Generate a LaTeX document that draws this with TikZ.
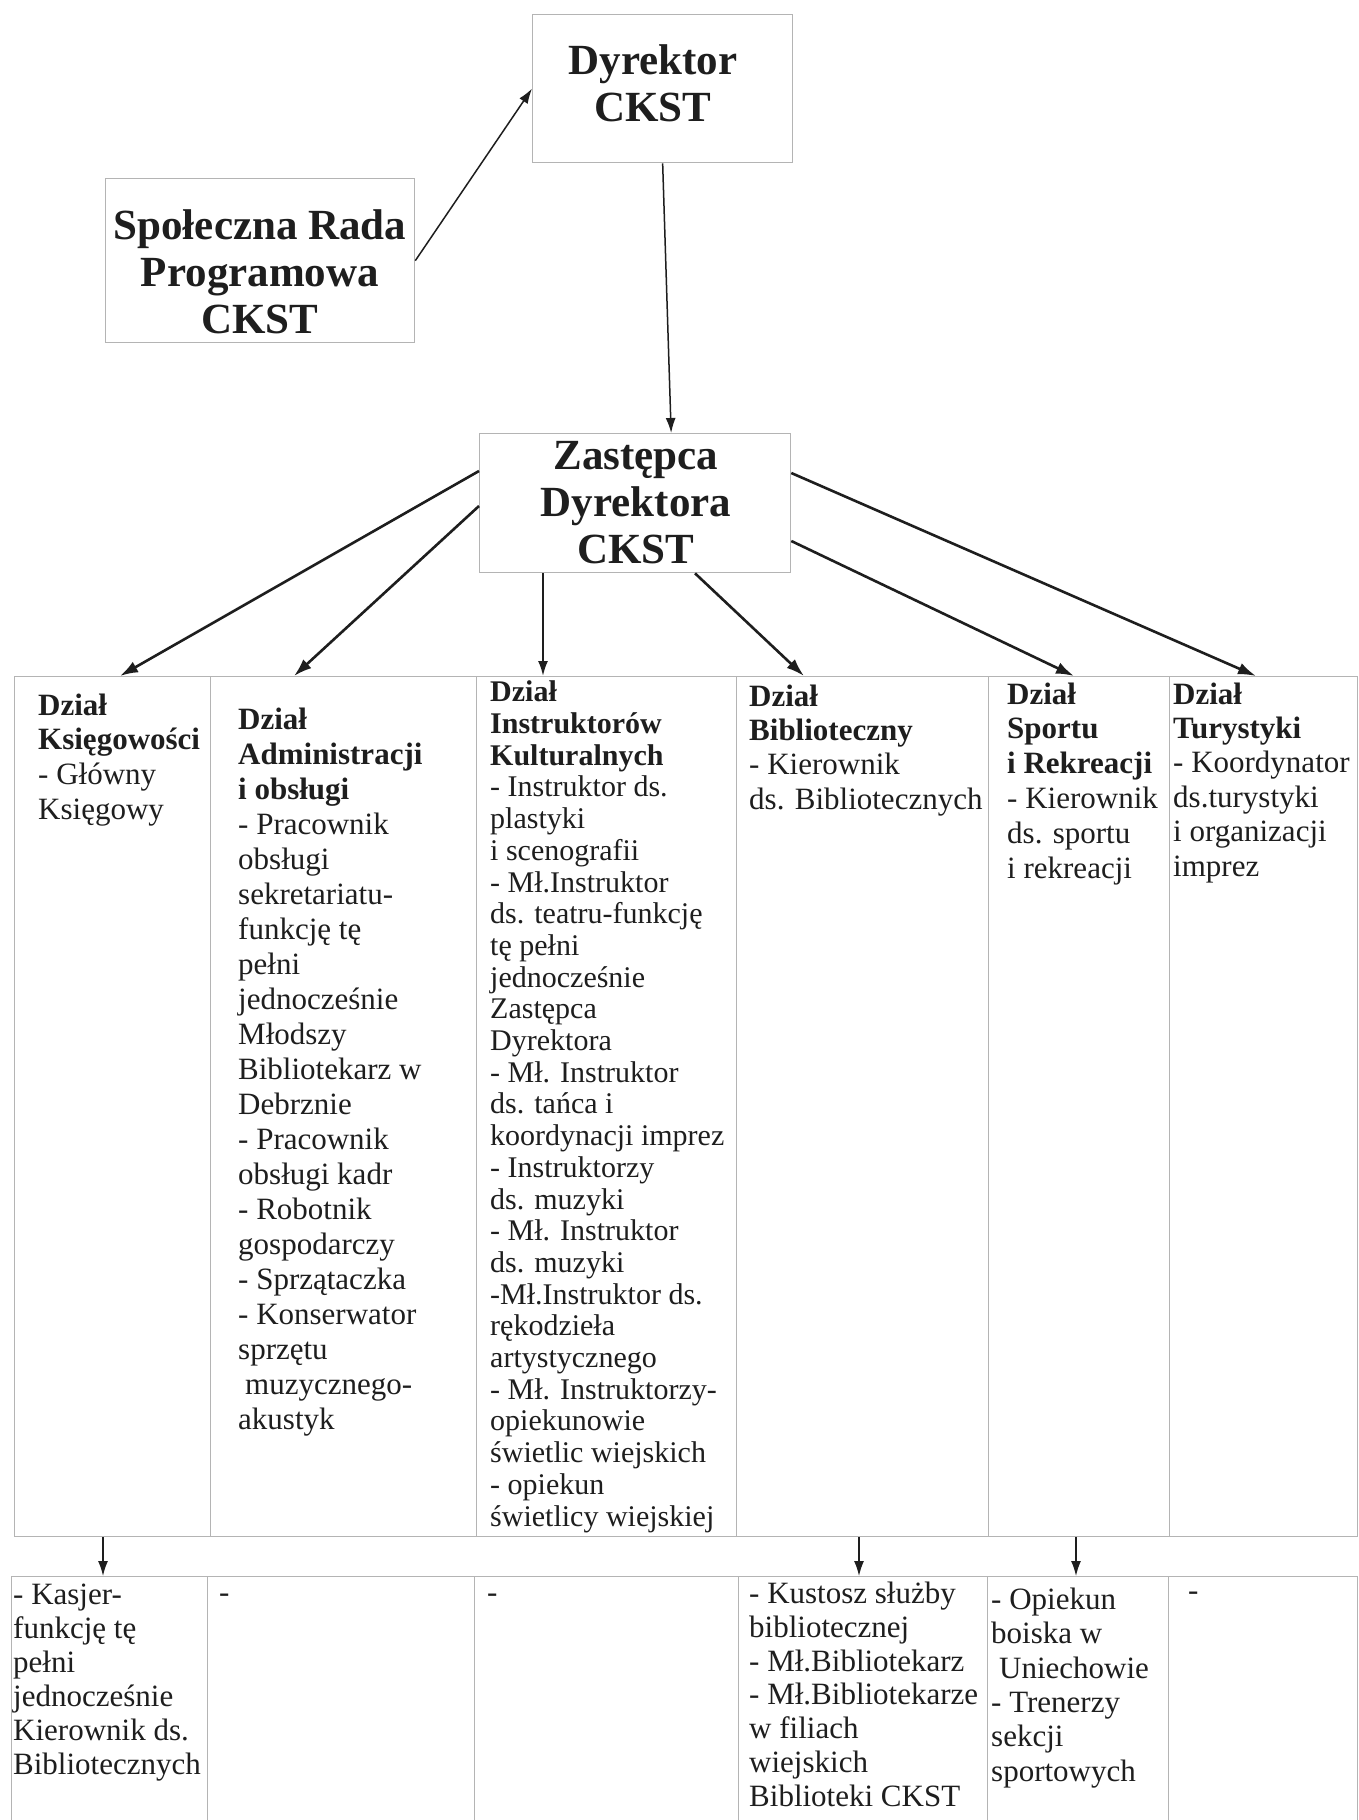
\documentclass[tikz,border=0pt]{standalone}
\usepackage{fontspec}
\setmainfont{Liberation Serif}
\usetikzlibrary{arrows.meta,calc}
\definecolor{ink}{HTML}{1E1E1E}
\definecolor{rulec}{HTML}{B4B4B4}
\setlength{\lineskiplimit}{-100pt}
\newcommand{\tightls}{\setlength{\lineskiplimit}{-100pt}}
\newcommand{\fs}[2]{\fontsize{#1}{#2}\selectfont\tightls}
\begin{document}
\begin{tikzpicture}[x=1pt,y=-1pt,
  box/.style={draw=rulec, line width=1.3pt, rectangle, inner sep=0pt, anchor=north west},
  head/.style={font={\fs{43}{47}\bfseries}, text=ink, align=center, anchor=base, inner sep=0pt},
  cell/.style={font={\fs{31}{34.6}}, text=ink, align=left, anchor=base west, inner sep=0pt},
  thinarrow/.style={draw=ink, line width=1.5pt, -{Latex[length=15pt,width=10pt]}},
  thickarrow/.style={draw=ink, line width=2.6pt, -{Latex[length=18pt,width=12pt]}},
]
\useasboundingbox[fill=white] (0,0) rectangle (1358,1820);

% top boxes
\node[box, minimum width=260pt, minimum height=148pt] (dyr) at (532,14) {};
\node[box, minimum width=309pt, minimum height=164pt] (rada) at (105,178) {};
\node[box, minimum width=311pt, minimum height=139pt] (zas) at (479,433) {};

% (anchor = baseline of the last line)
\node[head] (dyrt) at (653,121) {Dyrektor\\CKST};
\node[head] (radat) at (260,333) {Społeczna Rada\\Programowa\\CKST};
\node[head] (zast) at (636,563) {Zastępca\\Dyrektora\\CKST};

% upper row of cells
\node[box, minimum width=196pt, minimum height=860pt] (c1) at (14,676) {};
\node[box, minimum width=266pt, minimum height=860pt] (c2) at (210,676) {};
\node[box, minimum width=260pt, minimum height=860pt] (c3) at (476,676) {};
\node[box, minimum width=252pt, minimum height=860pt] (c4) at (736,676) {};
\node[box, minimum width=181pt, minimum height=860pt] (c5) at (988,676) {};
\node[box, minimum width=188pt, minimum height=860pt] (c6) at (1169,676) {};

% lower row of cells
\node[box, minimum width=196pt, minimum height=252pt] (d1) at (11,1576) {};
\node[box, minimum width=267pt, minimum height=252pt] (d2) at (207,1576) {};
\node[box, minimum width=264pt, minimum height=252pt] (d3) at (474,1576) {};
\node[box, minimum width=249pt, minimum height=252pt] (d4) at (738,1576) {};
\node[box, minimum width=181pt, minimum height=252pt] (d5) at (987,1576) {};
\node[box, minimum width=189pt, minimum height=252pt] (d6) at (1168,1576) {};

% texts of upper cells (anchor = baseline of the last line)
\node[cell] (t1) at (38,819) {\textbf{Dział}\\\textbf{Księgowości}\\- Główny\\Księgowy};
\node[cell, font={\fs{31}{35}}] (t2) at (238,1429) {\textbf{Dział}\\\textbf{Administracji}\\\textbf{i obsługi}\\- Pracownik\\obsługi\\sekretariatu-\\funkcję tę\\pełni\\jednocześnie\\Młodszy\\Bibliotekarz w\\Debrznie\\- Pracownik\\obsługi kadr\\- Robotnik\\gospodarczy\\- Sprzątaczka\\- Konserwator\\sprzętu\\\hspace*{7pt}muzycznego-\\akustyk};
\node[cell, font={\fs{30}{31.7}}] (t3) at (490,1526) {\textbf{Dział}\\\textbf{Instruktorów}\\\textbf{Kulturalnych}\\- Instruktor ds.\\plastyki\\i scenografii\\- Mł.Instruktor\\ds. teatru-funkcję\\tę pełni\\jednocześnie\\Zastępca\\Dyrektora\\- Mł. Instruktor\\ds. tańca i\\koordynacji imprez\\- Instruktorzy\\ds. muzyki\\- Mł. Instruktor\\ds. muzyki\\-Mł.Instruktor ds.\\rękodzieła\\artystycznego\\- Mł. Instruktorzy-\\opiekunowie\\świetlic wiejskich\\- opiekun\\świetlicy wiejskiej};
\node[cell, font={\fs{31}{34.3}}] (t4) at (749,809) {\textbf{Dział}\\\textbf{Biblioteczny}\\- Kierownik\\ds. Bibliotecznych};
\node[cell, font={\fs{31}{34.8}}] (t5) at (1007,878) {\textbf{Dział}\\\textbf{Sportu}\\\textbf{i Rekreacji}\\- Kierownik\\ds. sportu\\i rekreacji};
\node[cell, font={\fs{31}{34.4}}] (t6) at (1173,876) {\textbf{Dział}\\\textbf{Turystyki}\\- Koordynator\\ds.turystyki\\i organizacji\\imprez};

% texts of lower cells
\node[cell, font={\fs{31}{34}}] (u1) at (13,1774) {- Kasjer-\\funkcję tę\\pełni\\jednocześnie\\Kierownik ds.\\Bibliotecznych};
\node[cell] (u2) at (219,1602) {-};
\node[cell] (u3) at (487,1602) {-};
\node[cell, font={\fs{31}{33.7}}] (u4) at (749,1806) {- Kustosz służby\\bibliotecznej\\- Mł.Bibliotekarz\\- Mł.Bibliotekarze\\w filiach\\wiejskich\\Biblioteki CKST};
\node[cell, font={\fs{31}{34.3}}] (u5) at (991,1781) {- Opiekun\\boiska w\\\hspace*{8pt}Uniechowie\\- Trenerzy\\sekcji\\sportowych};
\node[cell] (u6) at (1188,1600) {-};

% connectors
\draw[thinarrow] (rada.east) -- (dyr.west);
\draw[thinarrow] (dyr.south) -- ($(zas.north)+(36,0)$);

\draw[thickarrow] ($(zas.north west)+(0,38)$) -- ($(c1.north west)+(106,0)$);
\draw[thickarrow] ($(zas.north west)+(0,73)$) -- ($(c2.north west)+(84,0)$);
\draw[thinarrow, line width=2pt] ($(zas.south west)+(64,0)$) -- ($(c3.north west)+(67,0)$);
\draw[thickarrow] ($(zas.south west)+(216,0)$) -- ($(c4.north west)+(68,0)$);
\draw[thickarrow] ($(zas.north east)+(0,108)$) -- ($(c5.north west)+(86,0)$);
\draw[thickarrow] ($(zas.north east)+(0,40)$) -- ($(c6.north west)+(87,0)$);

\draw[thinarrow] ($(c1.south west)+(89,0)$) -- ($(d1.north west)+(92,0)$);
\draw[thinarrow] ($(c4.south west)+(123,0)$) -- ($(d4.north west)+(121,0)$);
\draw[thinarrow] ($(c5.south west)+(88,0)$) -- ($(d5.north west)+(89,0)$);
\end{tikzpicture}
\end{document}
